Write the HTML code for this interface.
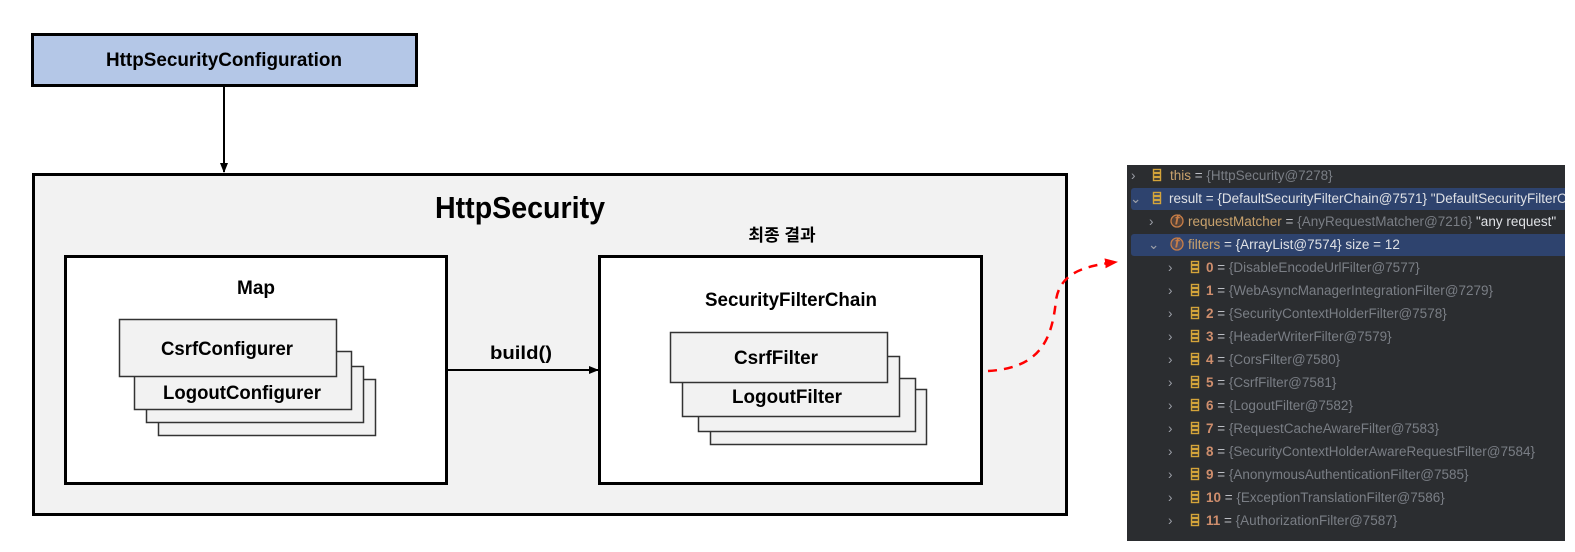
<!DOCTYPE html>
<html><head><meta charset="utf-8"><style>
html,body{margin:0;padding:0;background:#fff;overflow:hidden;}
svg{display:block}
.t{font-family:"Liberation Sans","Noto Sans CJK KR",sans-serif;fill:#000;}
.p{font-family:"Liberation Sans","Noto Sans CJK KR",sans-serif;font-size:13.5px;}
</style></head><body>
<svg width="1575" height="552" viewBox="0 0 1575 552" xmlns="http://www.w3.org/2000/svg">
<defs>
<marker id="ah" markerWidth="10" markerHeight="10" refX="9" refY="5" orient="auto" markerUnits="userSpaceOnUse"><path d="M0,1 L10,5 L0,9 z" fill="#000"/></marker>
<marker id="ahr" markerWidth="14" markerHeight="12" refX="12" refY="6" orient="auto" markerUnits="userSpaceOnUse"><path d="M0,1 L13,6 L0,11 z" fill="#f00"/></marker>
<clipPath id="pc"><rect x="1127" y="165" width="438" height="376"/></clipPath>
</defs>
<!-- top box -->
<rect x="32.5" y="34.5" width="384" height="51" fill="#b4c7e7" stroke="#000" stroke-width="3"/>
<text class="t" x="224" y="66" font-size="19" font-weight="bold" text-anchor="middle" textLength="236" lengthAdjust="spacingAndGlyphs">HttpSecurityConfiguration</text>
<line x1="224" y1="87" x2="224" y2="172" stroke="#000" stroke-width="2" marker-end="url(#ah)"/>
<!-- outer -->
<rect x="33.5" y="174.5" width="1033" height="340" fill="#f2f2f2" stroke="#000" stroke-width="3"/>
<text class="t" x="520" y="218" font-size="31" font-weight="bold" text-anchor="middle" textLength="170" lengthAdjust="spacingAndGlyphs">HttpSecurity</text>
<text class="t" x="782" y="241" font-size="17" font-weight="bold" text-anchor="middle">최종 결과</text>
<!-- Map -->
<rect x="65.5" y="256.5" width="381" height="227" fill="#fff" stroke="#000" stroke-width="3"/>
<text class="t" x="256" y="294" font-size="19" font-weight="bold" text-anchor="middle">Map</text>
<g fill="#f2f2f2" stroke="#333" stroke-width="1.5">
<rect x="158.5" y="379.5" width="217" height="56"/>
<rect x="146.5" y="366.5" width="217" height="56"/>
<rect x="134.5" y="351.5" width="217" height="58"/>
<rect x="119.5" y="319.5" width="217" height="57"/>
</g>
<text class="t" x="227" y="355" font-size="19" font-weight="bold" text-anchor="middle" textLength="132" lengthAdjust="spacingAndGlyphs">CsrfConfigurer</text>
<text class="t" x="242" y="399" font-size="19" font-weight="bold" text-anchor="middle" textLength="158" lengthAdjust="spacingAndGlyphs">LogoutConfigurer</text>
<!-- build arrow -->
<line x1="448" y1="370" x2="598" y2="370" stroke="#000" stroke-width="2" marker-end="url(#ah)"/>
<text class="t" x="521" y="359" font-size="18" font-weight="bold" text-anchor="middle" textLength="62" lengthAdjust="spacingAndGlyphs">build()</text>
<!-- SecurityFilterChain -->
<rect x="599.5" y="256.5" width="382" height="227" fill="#fff" stroke="#000" stroke-width="3"/>
<text class="t" x="791" y="306" font-size="19" font-weight="bold" text-anchor="middle" textLength="172" lengthAdjust="spacingAndGlyphs">SecurityFilterChain</text>
<g fill="#f2f2f2" stroke="#333" stroke-width="1.5">
<rect x="710.5" y="389.5" width="216" height="55"/>
<rect x="698.5" y="378.5" width="217" height="53"/>
<rect x="682.5" y="356.5" width="217" height="60"/>
<rect x="670.5" y="332.5" width="217" height="50"/>
</g>
<text class="t" x="776" y="364" font-size="19" font-weight="bold" text-anchor="middle" textLength="84" lengthAdjust="spacingAndGlyphs">CsrfFilter</text>
<text class="t" x="787" y="403" font-size="19" font-weight="bold" text-anchor="middle" textLength="110" lengthAdjust="spacingAndGlyphs">LogoutFilter</text>
<!-- red dashed -->
<path d="M988,371 C1040,368 1052,340 1056,300 C1060,275 1080,266 1117,262" fill="none" stroke="#f00" stroke-width="2.5" stroke-dasharray="9,7" marker-end="url(#ahr)"/>
<!-- debugger panel -->
<rect x="1127" y="165" width="438" height="376" fill="#2b2d30"/>
<g clip-path="url(#pc)">
<rect x="1131" y="188" width="440" height="22" rx="3" fill="#2e436e"/>
<rect x="1131" y="234" width="440" height="22" rx="3" fill="#2e436e"/>
<g class="p" fill="#9da0a8">
<text x="1131" y="180">›</text>
<text x="1130" y="203">⌄</text>
<text x="1149" y="226">›</text>
<text x="1148" y="249">⌄</text>
</g>
<g fill="none" stroke="#d4a43a" stroke-width="1.4">
<g transform="translate(1153,169)"><rect x="0.5" y="0.5" width="7" height="3"/><rect x="0.5" y="4.5" width="7" height="3"/><rect x="0.5" y="8.5" width="7" height="3"/></g>
<g transform="translate(1153,192)"><rect x="0.5" y="0.5" width="7" height="3"/><rect x="0.5" y="4.5" width="7" height="3"/><rect x="0.5" y="8.5" width="7" height="3"/></g>
</g>
<g fill="#c77d47" fill-opacity="0.25" stroke="#c77d47" stroke-width="1.3">
<circle cx="1177" cy="221" r="6"/>
<circle cx="1177" cy="244" r="6"/>
</g>
<g class="p" font-size="9" font-style="italic" font-weight="bold" fill="#c77d47" text-anchor="middle">
<text x="1177" y="224.5">f</text><text x="1177" y="247.5">f</text>
</g>
<g class="p">
<text x="1170" y="180"><tspan fill="#c9a26d">this</tspan><tspan fill="#bcbec4"> = </tspan><tspan fill="#7a7e85">{HttpSecurity@7278}</tspan></text>
<text x="1169" y="203" fill="#dfe1e5">result = {DefaultSecurityFilterChain@7571} "DefaultSecurityFilterChain"</text>
<text x="1188" y="226"><tspan fill="#c9a26d">requestMatcher</tspan><tspan fill="#bcbec4"> = </tspan><tspan fill="#7a7e85">{AnyRequestMatcher@7216} </tspan><tspan fill="#dfe1e5">"any request"</tspan></text>
<text x="1188" y="249" fill="#dfe1e5"><tspan fill="#c9a26d">filters</tspan> = {ArrayList@7574}  size = 12</text>
</g>
<g class="p">
<g fill="#9da0a8">
<text x="1168" y="272">›</text><text x="1168" y="295">›</text><text x="1168" y="318">›</text><text x="1168" y="341">›</text><text x="1168" y="364">›</text><text x="1168" y="387">›</text><text x="1168" y="410">›</text><text x="1168" y="433">›</text><text x="1168" y="456">›</text><text x="1168" y="479">›</text><text x="1168" y="502">›</text><text x="1168" y="525">›</text>
</g>
<g fill="none" stroke="#d4a43a" stroke-width="1.4">
<g transform="translate(1191,261)"><rect x="0.5" y="0.5" width="7" height="3"/><rect x="0.5" y="4.5" width="7" height="3"/><rect x="0.5" y="8.5" width="7" height="3"/></g>
<g transform="translate(1191,284)"><rect x="0.5" y="0.5" width="7" height="3"/><rect x="0.5" y="4.5" width="7" height="3"/><rect x="0.5" y="8.5" width="7" height="3"/></g>
<g transform="translate(1191,307)"><rect x="0.5" y="0.5" width="7" height="3"/><rect x="0.5" y="4.5" width="7" height="3"/><rect x="0.5" y="8.5" width="7" height="3"/></g>
<g transform="translate(1191,330)"><rect x="0.5" y="0.5" width="7" height="3"/><rect x="0.5" y="4.5" width="7" height="3"/><rect x="0.5" y="8.5" width="7" height="3"/></g>
<g transform="translate(1191,353)"><rect x="0.5" y="0.5" width="7" height="3"/><rect x="0.5" y="4.5" width="7" height="3"/><rect x="0.5" y="8.5" width="7" height="3"/></g>
<g transform="translate(1191,376)"><rect x="0.5" y="0.5" width="7" height="3"/><rect x="0.5" y="4.5" width="7" height="3"/><rect x="0.5" y="8.5" width="7" height="3"/></g>
<g transform="translate(1191,399)"><rect x="0.5" y="0.5" width="7" height="3"/><rect x="0.5" y="4.5" width="7" height="3"/><rect x="0.5" y="8.5" width="7" height="3"/></g>
<g transform="translate(1191,422)"><rect x="0.5" y="0.5" width="7" height="3"/><rect x="0.5" y="4.5" width="7" height="3"/><rect x="0.5" y="8.5" width="7" height="3"/></g>
<g transform="translate(1191,445)"><rect x="0.5" y="0.5" width="7" height="3"/><rect x="0.5" y="4.5" width="7" height="3"/><rect x="0.5" y="8.5" width="7" height="3"/></g>
<g transform="translate(1191,468)"><rect x="0.5" y="0.5" width="7" height="3"/><rect x="0.5" y="4.5" width="7" height="3"/><rect x="0.5" y="8.5" width="7" height="3"/></g>
<g transform="translate(1191,491)"><rect x="0.5" y="0.5" width="7" height="3"/><rect x="0.5" y="4.5" width="7" height="3"/><rect x="0.5" y="8.5" width="7" height="3"/></g>
<g transform="translate(1191,514)"><rect x="0.5" y="0.5" width="7" height="3"/><rect x="0.5" y="4.5" width="7" height="3"/><rect x="0.5" y="8.5" width="7" height="3"/></g>
</g>
<text x="1206" y="272"><tspan fill="#cf8e6d" font-weight="bold">0</tspan><tspan fill="#bcbec4"> = </tspan><tspan fill="#7a7e85">{DisableEncodeUrlFilter@7577}</tspan></text>
<text x="1206" y="295"><tspan fill="#cf8e6d" font-weight="bold">1</tspan><tspan fill="#bcbec4"> = </tspan><tspan fill="#7a7e85">{WebAsyncManagerIntegrationFilter@7279}</tspan></text>
<text x="1206" y="318"><tspan fill="#cf8e6d" font-weight="bold">2</tspan><tspan fill="#bcbec4"> = </tspan><tspan fill="#7a7e85">{SecurityContextHolderFilter@7578}</tspan></text>
<text x="1206" y="341"><tspan fill="#cf8e6d" font-weight="bold">3</tspan><tspan fill="#bcbec4"> = </tspan><tspan fill="#7a7e85">{HeaderWriterFilter@7579}</tspan></text>
<text x="1206" y="364"><tspan fill="#cf8e6d" font-weight="bold">4</tspan><tspan fill="#bcbec4"> = </tspan><tspan fill="#7a7e85">{CorsFilter@7580}</tspan></text>
<text x="1206" y="387"><tspan fill="#cf8e6d" font-weight="bold">5</tspan><tspan fill="#bcbec4"> = </tspan><tspan fill="#7a7e85">{CsrfFilter@7581}</tspan></text>
<text x="1206" y="410"><tspan fill="#cf8e6d" font-weight="bold">6</tspan><tspan fill="#bcbec4"> = </tspan><tspan fill="#7a7e85">{LogoutFilter@7582}</tspan></text>
<text x="1206" y="433"><tspan fill="#cf8e6d" font-weight="bold">7</tspan><tspan fill="#bcbec4"> = </tspan><tspan fill="#7a7e85">{RequestCacheAwareFilter@7583}</tspan></text>
<text x="1206" y="456"><tspan fill="#cf8e6d" font-weight="bold">8</tspan><tspan fill="#bcbec4"> = </tspan><tspan fill="#7a7e85">{SecurityContextHolderAwareRequestFilter@7584}</tspan></text>
<text x="1206" y="479"><tspan fill="#cf8e6d" font-weight="bold">9</tspan><tspan fill="#bcbec4"> = </tspan><tspan fill="#7a7e85">{AnonymousAuthenticationFilter@7585}</tspan></text>
<text x="1206" y="502"><tspan fill="#cf8e6d" font-weight="bold">10</tspan><tspan fill="#bcbec4"> = </tspan><tspan fill="#7a7e85">{ExceptionTranslationFilter@7586}</tspan></text>
<text x="1206" y="525"><tspan fill="#cf8e6d" font-weight="bold">11</tspan><tspan fill="#bcbec4"> = </tspan><tspan fill="#7a7e85">{AuthorizationFilter@7587}</tspan></text>
</g>
</g>
</svg>
</body></html>
